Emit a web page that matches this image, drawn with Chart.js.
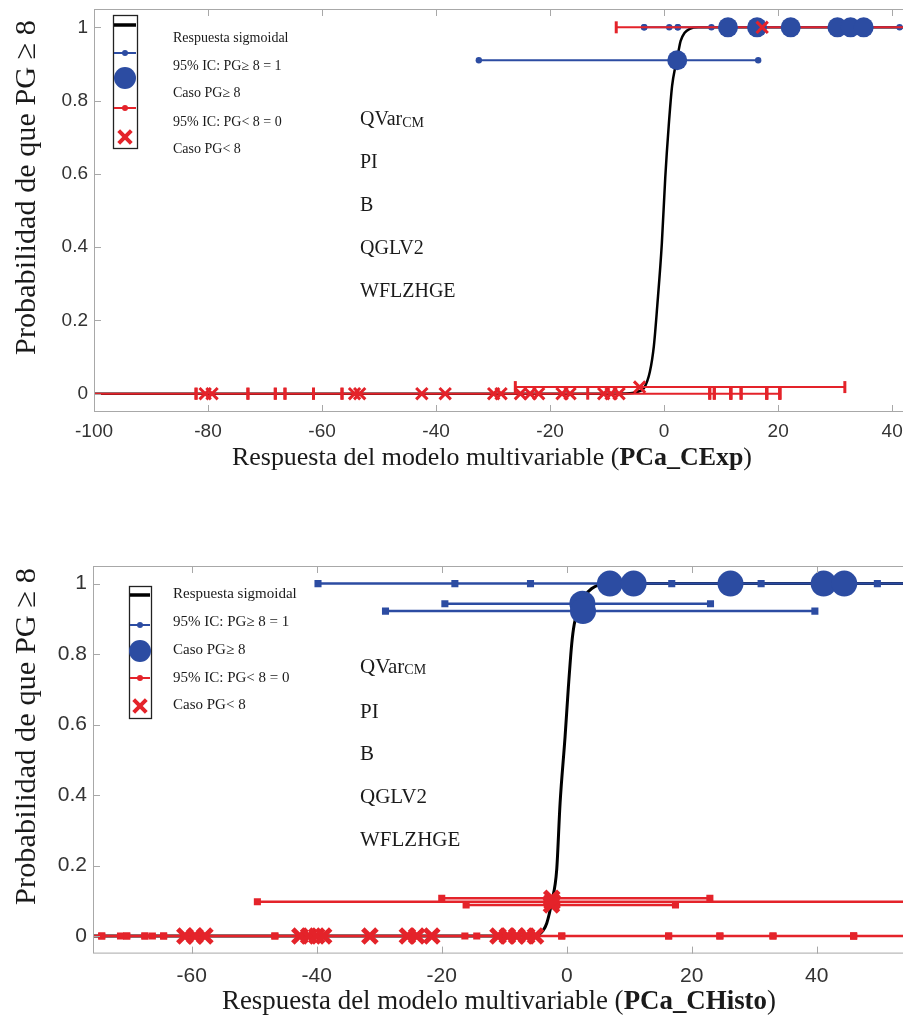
<!DOCTYPE html>
<html><head><meta charset="utf-8">
<script src="https://cdn.jsdelivr.net/npm/chart.js@4.4.1/dist/chart.umd.min.js"></script>
<style>
html,body{margin:0;padding:0;background:#fff;overflow:hidden;}
#wrap{position:relative;width:903px;height:1018px;overflow:hidden;background:#fff;}
canvas{position:absolute;left:0;}
</style></head><body>
<div id="wrap">
<canvas id="cA" width="903" height="509" style="top:0"></canvas>
<canvas id="cB" width="903" height="509" style="top:509px"></canvas>
</div>
<script>
// ================= DATA =================
const yTicks = [0, 0.2, 0.4, 0.6, 0.8, 1];
const yTickLabels = ['0', '0.2', '0.4', '0.6', '0.8', '1'];

// ---- Panel A : PCa_CExp ----
const xTicksA = [-100, -80, -60, -40, -20, 0, 20, 40];
const sigmoidAx = [-100, -10, -6, -4.5, -3.5, -2.5, -1.8, -1.2, -0.4, 0.2, 0.8, 1.4, 2.0, 2.4, 2.9, 3.6, 4.5, 6, 42];
const sigmoidAy = [0, 0, 0.001, 0.006, 0.016, 0.06, 0.13, 0.24, 0.41, 0.59, 0.73, 0.84, 0.895, 0.925, 0.963, 0.985, 0.996, 1, 1];
const posCasesAx = [2.3, 11.2, 16.3, 22.2, 30.4, 32.7, 35.0];
const posCasesAy = [0.91, 1, 1, 1, 1, 1, 1];
const posCiAlo = [-32.5, -3.5, 0.9, 2.4, 8.3, 2.4, -3.5];
const posCiAhi = [16.5, 60, 60, 60, 60, 41.3, 60];
const negCasesAx = [-80.5, -79.3, -54.3, -53.4, -42.5, -38.4, -29.9, -28.6, -25.2, -23.5, -22.0, -17.9, -16.5, -10.6, -9.3, -7.9, -4.3, 17.2];
const negCasesAy = [0, 0, 0, 0, 0, 0, 0, 0, 0, 0, 0, 0, 0, 0, 0, 0, 0.018, 1];
const negCiAlo = [-120, -120, -120, -120, -82.1, -73.0, -68.2, -66.5, -61.5, -56.5, -82.1, -73.0, -68.2, -61.5, -56.5, -66.5, -26.1, -8.4];
const negCiAhi = [-13.4, 8.0, 8.8, 11.7, 13.5, 18.0, 20.3, 18.0, 20.3, 13.5, 11.7, 8.0, 8.8, 18.0, 20.3, 11.7, 31.7, 60];

// ---- Panel B : PCa_CHisto ----
const xTicksB = [-60, -40, -20, 0, 20, 40];
const sigmoidBx = [-80, -8, -5.5, -4.5, -3.8, -3.2, -2.4, -1.6, -1.07, -0.27, 0.26, 0.8, 1.2, 2.0, 3.0, 4.0, 5.0, 6, 55];
const sigmoidBy = [0, 0, 0.001, 0.004, 0.015, 0.036, 0.097, 0.19, 0.376, 0.565, 0.706, 0.83, 0.885, 0.935, 0.968, 0.986, 0.996, 1, 1];
const posCasesBx = [2.5, 2.6, 6.9, 10.7, 26.2, 41.1, 44.4];
const posCasesBy = [0.943, 0.922, 1, 1, 1, 1, 1];
const posCiBlo = [-19.5, -29.0, -39.8, -17.9, -5.8, 16.8, 31.1];
const posCiBhi = [23.0, 39.7, 49.7, 80, 80, 80, 80];
const negCasesBx = [-61.1, -59.5, -57.9, -42.7, -41.3, -40.0, -38.9, -31.5, -25.5, -24.0, -21.6, -11.0, -9.5, -8.0, -6.4, -5.0, -2.4, -2.35, -2.45];
const negCasesBy = [0, 0, 0, 0, 0, 0, 0, 0, 0, 0, 0, 0, 0, 0, 0, 0, 0.107, 0.097, 0.088];
const negCiBlo = [-74.4, -71.4, -70.4, -67.5, -66.3, -64.5, -90, -46.7, -90, -90, -74.4, -46.7, -90, -67.5, -64.5, -70.4, -20.0, -49.5, -16.1];
const negCiBhi = [-16.3, -14.4, -0.8, 16.3, 24.5, 33.0, 45.9, 70, 16.3, 24.5, 33.0, 45.9, 70, -0.8, 70, 45.9, 22.9, 70, 17.4];

const legendTexts = ['Respuesta sigmoidal', '95% IC: PG\u2265 8 = 1', 'Caso PG\u2265 8', '95% IC: PG< 8 = 0', 'Caso PG< 8'];
const annotTexts = ['QVar', 'PI', 'B', 'QGLV2', 'WFLZHGE'];
const yTitle = 'Probabilidad de que PG \u2265 8';
const xTitleA = ['Respuesta del modelo multivariable (', 'PCa_CExp', ')'];
const xTitleB = ['Respuesta del modelo multivariable (', 'PCa_CHisto', ')'];

// ================= STYLE / HELPERS =================
const BLUE = '#2c4ca2';
const RED = '#e4232a';
const SERIF = '"Liberation Serif", "Times New Roman", serif';
const SANS = '"Liberation Sans", Arial, sans-serif';

function ciData(lo, hi, y) {
  const d = [];
  for (let i = 0; i < lo.length; i++) {
    d.push({x: lo[i], y: y[i]}, {x: hi[i], y: y[i]}, {x: hi[i], y: null});
  }
  return d;
}
function pts(xs, ys) { return xs.map((x, i) => ({x: x, y: ys[i]})); }

const DECO = {
  cA: {
    xTicks: xTicksA,
    legend: {box: [113, 15, 137, 148], sy: [25, 53, 78, 108, 137], ty: [38, 66, 93, 122, 149], tx: 173,
             font: '14px ' + SERIF, cr: 11, xr: 9, xw: 4},
    annot: {x: 360, ys: [120, 163, 206, 249, 292], size: 20},
    xTitle: {parts: xTitleA, cx: 492, cy: 458, w: 520},
    yTitle: {cx: 27, cy: 187.5, w: 335}
  },
  cB: {
    xTicks: xTicksB,
    legend: {box: [129, 77, 151, 209], sy: [86, 116, 142, 169, 197], ty: [85, 113, 141, 169, 196], tx: 173,
             font: '15px ' + SERIF, cr: 11, xr: 9, xw: 4},
    annot: {x: 360, ys: [158, 203, 245, 288, 331], size: 21},
    xTitle: {parts: xTitleB, cx: 499, cy: 493, w: 554},
    yTitle: {cx: 27, cy: 227.5, w: 337}
  }
};

function drawX(ctx, x, y, r) {
  ctx.beginPath();
  ctx.moveTo(x - r * 0.7, y - r * 0.7); ctx.lineTo(x + r * 0.7, y + r * 0.7);
  ctx.moveTo(x + r * 0.7, y - r * 0.7); ctx.lineTo(x - r * 0.7, y + r * 0.7);
  ctx.stroke();
}
function dot(ctx, x, y, r, c) {
  ctx.beginPath(); ctx.arc(x, y, r, 0, Math.PI * 2); ctx.fillStyle = c; ctx.fill();
}
function hline(ctx, x0, x1, y, c, w) {
  ctx.beginPath(); ctx.moveTo(x0, y); ctx.lineTo(x1, y); ctx.strokeStyle = c; ctx.lineWidth = w; ctx.stroke();
}

const decoPlugin = {
  id: 'deco',
  afterDraw(chart) {
    const D = DECO[chart.canvas.id];
    const ctx = chart.ctx, a = chart.chartArea;
    const xs = chart.scales.x, ys = chart.scales.y;
    ctx.save();
    // frame
    ctx.strokeStyle = '#a8a8a8'; ctx.lineWidth = 1;
    ctx.strokeRect(a.left + 0.5, a.top + 0.5, a.right - a.left, a.bottom - a.top - 1);
    // inward ticks
    ctx.beginPath();
    D.xTicks.forEach(v => {
      const px = Math.round(xs.getPixelForValue(v)) + 0.5;
      ctx.moveTo(px, a.bottom); ctx.lineTo(px, a.bottom - 7);
      ctx.moveTo(px, a.top); ctx.lineTo(px, a.top + 7);
    });
    yTicks.forEach(v => {
      const py = Math.round(ys.getPixelForValue(v)) + 0.5;
      ctx.moveTo(a.left, py); ctx.lineTo(a.left + 7, py);
    });
    ctx.stroke();

    // legend
    const L = D.legend;
    const [x0, y0, x1, y1] = L.box;
    const cx = (x0 + x1) / 2;
    ctx.fillStyle = '#fff'; ctx.fillRect(x0, y0, x1 - x0, y1 - y0);
    ctx.strokeStyle = '#222'; ctx.lineWidth = 1.3; ctx.strokeRect(x0 + 0.5, y0 + 0.5, x1 - x0, y1 - y0);
    hline(ctx, x0 + 1, x1 - 1, L.sy[0], '#000', 3.5);
    hline(ctx, x0 + 1, x1 - 1, L.sy[1], BLUE, 2); dot(ctx, cx, L.sy[1], 3, BLUE);
    dot(ctx, cx, L.sy[2], L.cr, BLUE);
    hline(ctx, x0 + 1, x1 - 1, L.sy[3], RED, 2); dot(ctx, cx, L.sy[3], 3, RED);
    ctx.strokeStyle = RED; ctx.lineWidth = L.xw; drawX(ctx, cx, L.sy[4], L.xr);
    ctx.fillStyle = '#1a1a1a'; ctx.font = L.font; ctx.textBaseline = 'middle'; ctx.textAlign = 'left';
    legendTexts.forEach((t, i) => ctx.fillText(t, L.tx, L.ty[i]));

    // annotation labels
    const A = D.annot;
    ctx.fillStyle = '#1a1a1a'; ctx.textBaseline = 'middle';
    annotTexts.forEach((t, i) => {
      ctx.font = A.size + 'px ' + SERIF;
      ctx.fillText(t, A.x, A.ys[i]);
      if (i === 0) {
        const w = ctx.measureText(t).width;
        ctx.font = Math.round(A.size * 0.68) + 'px ' + SERIF;
        ctx.textBaseline = 'alphabetic';
        ctx.fillText('CM', A.x + w, A.ys[i] + A.size * 0.33);
        ctx.textBaseline = 'middle';
      }
    });

    // x title (fit to width)
    const T = D.xTitle;
    ctx.font = '100px ' + SERIF;
    const w0 = ctx.measureText(T.parts[0]).width, w2 = ctx.measureText(T.parts[2]).width;
    ctx.font = 'bold 100px ' + SERIF;
    const w1 = ctx.measureText(T.parts[1]).width;
    const s = T.w / (w0 + w1 + w2);
    const fs = 100 * s;
    let x = T.cx - T.w / 2;
    ctx.textBaseline = 'middle'; ctx.fillStyle = '#1a1a1a';
    ctx.font = fs + 'px ' + SERIF; ctx.fillText(T.parts[0], x, T.cy); x += w0 * s;
    ctx.font = 'bold ' + fs + 'px ' + SERIF; ctx.fillText(T.parts[1], x, T.cy); x += w1 * s;
    ctx.font = fs + 'px ' + SERIF; ctx.fillText(T.parts[2], x, T.cy);

    // y title
    const Y = D.yTitle;
    ctx.font = '100px ' + SERIF;
    const wy = ctx.measureText(yTitle).width;
    ctx.font = (100 * Y.w / wy) + 'px ' + SERIF;
    ctx.translate(Y.cx, Y.cy); ctx.rotate(-Math.PI / 2);
    ctx.textAlign = 'center'; ctx.textBaseline = 'middle';
    ctx.fillText(yTitle, 0, 0);
    ctx.restore();
  }
};

function makeChart(id, cfg) {
  // back-to-front drawing order
  const list = [
    {label: 'sigmoid', data: pts(cfg.sigX, cfg.sigY), showLine: true, borderColor: '#000', borderWidth: cfg.sigW,
     pointRadius: 0, cubicInterpolationMode: 'monotone'},
    {label: 'ciPos', data: ciData(cfg.posLo, cfg.posHi, cfg.posY), showLine: true, borderColor: BLUE, borderWidth: cfg.lw,
     pointStyle: cfg.capStylePos, pointRadius: cfg.capRPos, pointBackgroundColor: BLUE, pointBorderColor: BLUE, pointBorderWidth: 0, spanGaps: false},
    {label: 'ciNeg', data: ciData(cfg.negLo, cfg.negHi, cfg.negY), showLine: true, borderColor: RED, borderWidth: cfg.lw,
     pointStyle: cfg.capStyleNeg, pointRotation: cfg.capRotNeg, pointRadius: cfg.capRNeg, pointBackgroundColor: RED, pointBorderColor: RED,
     pointBorderWidth: cfg.capWNeg, spanGaps: false},
    {label: 'casoPos', data: pts(cfg.posX, cfg.posY), showLine: false, pointStyle: 'circle', pointRadius: cfg.circR,
     pointBackgroundColor: BLUE, pointBorderColor: BLUE, pointBorderWidth: 0},
    {label: 'casoNeg', data: pts(cfg.negX, cfg.negY), showLine: false, pointStyle: 'crossRot', pointRadius: cfg.xR,
     pointBorderColor: RED, pointBorderWidth: cfg.xW}
  ];
  list.forEach((d, i) => { d.order = -i; });
  return new Chart(document.getElementById(id), {
    type: 'scatter',
    data: {datasets: list},
    options: {
      responsive: false, animation: false, events: [],
      layout: {autoPadding: false, padding: {top: cfg.padTop, left: 0, right: 0, bottom: 0}},
      plugins: {legend: {display: false}, tooltip: {enabled: false}},
      scales: {
        x: {type: 'linear', min: cfg.xmin, max: cfg.xmax,
            grid: {display: false, drawTicks: false}, border: {display: false},
            ticks: {font: {family: SANS, size: cfg.tickSize}, color: '#333', padding: cfg.xPad, maxRotation: 0, autoSkip: false,
                    callback: v => String(v)},
            afterBuildTicks: s => { s.ticks = cfg.xTicks.map(v => ({value: v})); },
            afterFit: s => { s.height = cfg.xH; s.paddingLeft = 0; s.paddingRight = 0; }},
        y: {type: 'linear', min: -0.05, max: 1.05,
            grid: {display: false, drawTicks: false}, border: {display: false},
            ticks: {font: {family: SANS, size: cfg.tickSize}, color: '#333', padding: 6,
                    callback: v => yTickLabels[yTicks.indexOf(v)]},
            afterBuildTicks: s => { s.ticks = yTicks.map(v => ({value: v})); },
            afterFit: s => { s.width = cfg.yW; s.paddingTop = 0; s.paddingBottom = 0; }}
      }
    },
    plugins: [decoPlugin]
  });
}

makeChart('cA', {
  xmin: -100, xmax: 41.9, xTicks: xTicksA, padTop: 9, xH: 97, yW: 94, tickSize: 19, xPad: 8,
  sigX: sigmoidAx, sigY: sigmoidAy, sigW: 2.5,
  posX: posCasesAx, posY: posCasesAy, posLo: posCiAlo, posHi: posCiAhi,
  negX: negCasesAx, negY: negCasesAy, negLo: negCiAlo, negHi: negCiAhi,
  lw: 2, capStylePos: 'circle', capRPos: 3.2, capStyleNeg: 'line', capRotNeg: 90, capRNeg: 6, capWNeg: 3,
  circR: 10, xR: 8, xW: 3
});

makeChart('cB', {
  xmin: -75.8, xmax: 53.8, xTicks: xTicksB, padTop: 57, xH: 64.4, yW: 93, tickSize: 21, xPad: 10,
  sigX: sigmoidBx, sigY: sigmoidBy, sigW: 3,
  posX: posCasesBx, posY: posCasesBy, posLo: posCiBlo, posHi: posCiBhi,
  negX: negCasesBx, negY: negCasesBy, negLo: negCiBlo, negHi: negCiBhi,
  lw: 2.5, capStylePos: 'rect', capRPos: 5, capStyleNeg: 'rect', capRotNeg: 0, capRNeg: 5, capWNeg: 0,
  circR: 13, xR: 10, xW: 5
});
</script>
</body></html>
